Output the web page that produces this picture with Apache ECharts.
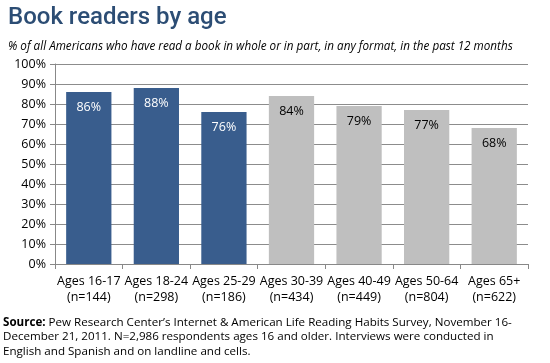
<!DOCTYPE html>
<html><head><meta charset="utf-8">
<script src="https://cdn.jsdelivr.net/npm/echarts@6/dist/echarts.min.js"></script>
<style>html,body{margin:0;padding:0;background:#fff}#c{width:550px;height:363px}</style>
</head><body><div id="c"></div>
<script>
const categories = ['Ages 16-17\n(n=144)','Ages 18-24\n(n=298)','Ages 25-29\n(n=186)','Ages 30-39\n(n=434)','Ages 40-49\n(n=449)','Ages 50-64\n(n=804)','Ages 65+\n(n=622)'];
const values = [86, 88, 76, 84, 79, 77, 68];
const highlighted = [true, true, true, false, false, false, false];
const yTicks = [0,10,20,30,40,50,60,70,80,90,100];

const BLUE = '#395d8d', GREY = '#bfbfbf';
const chart = echarts.init(document.getElementById('c'), null, {renderer:'canvas'});
chart.setOption({
  animation:false,
  textStyle:{fontFamily:'Open Sans'},
  title:[
    {text:'Book readers by age', left:3, top:1, textStyle:{fontFamily:'Roboto', fontSize:24, fontWeight:500, color:'#2c4d74'}},
    {text:'% of all Americans who have read a book in whole or in part, in any format, in the past 12 months', left:3, top:36, textStyle:{fontFamily:'Open Sans', fontStyle:'italic', fontSize:11.7, fontWeight:'normal', color:'#000'}}
  ],
  graphic:[{type:'text', left:3, top:315, style:{
    rich:{b:{fontWeight:'bold',fontSize:11.6,fontFamily:'Open Sans',fill:'#000',lineHeight:14.5}, n:{fontSize:11.6,fontFamily:'Open Sans',fill:'#000',lineHeight:14.5}},
    text:'{b|Source:}{n| Pew Research Center\u2019s Internet & American Life Reading Habits Survey, November 16-}\n{n|December 21, 2011. N=2,986 respondents ages 16 and older. Interviews were conducted in}\n{n|English and Spanish and on landline and cells.}',
    lineHeight:14.5
  }}],
  grid:{left:55, right:22, top:64, bottom:99},
  xAxis:{type:'category', data:categories,
    axisLine:{lineStyle:{color:'#888'}},
    axisTick:{show:true, alignWithLabel:false, length:5, lineStyle:{color:'#888'}},
    axisLabel:{color:'#000', fontSize:12.5, lineHeight:16, margin:9, interval:0}},
  yAxis:{type:'value', min:0, max:100, interval:10,
    axisLine:{show:true, lineStyle:{color:'#888'}},
    axisTick:{show:true, length:5, lineStyle:{color:'#888'}},
    splitLine:{lineStyle:{color:'#8c8c8c', width:1}},
    axisLabel:{color:'#000', fontSize:12.5, margin:9, formatter:v=>v+'%'}},
  series:[{type:'bar', barCategoryGap:'33%',
    data:values.map((v,i)=>({value:v, itemStyle:{color:highlighted[i]?BLUE:GREY},
      label:{color:highlighted[i]?'#fff':'#000'}})),
    label:{show:true, position:'insideTop', distance:9, fontSize:12.5, formatter:p=>p.value+'%'}
  }]
});
</script></body></html>
